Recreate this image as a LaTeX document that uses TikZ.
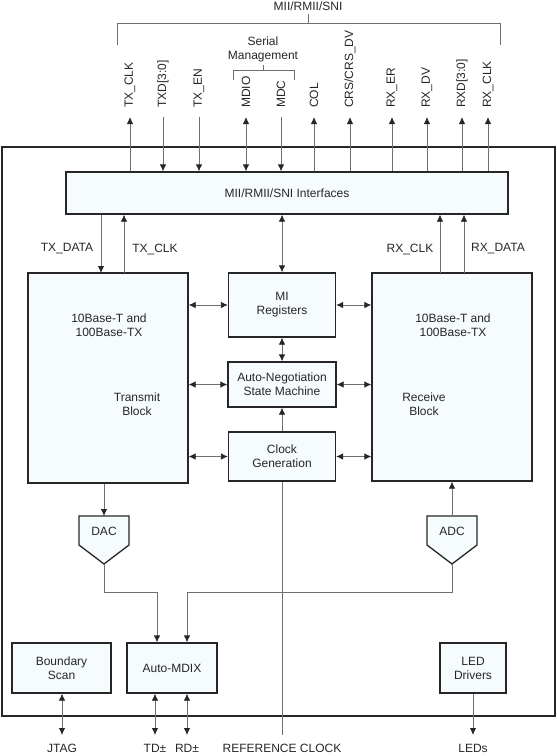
\documentclass[tikz,border=0pt]{standalone}
\usepackage{fontspec}
\setmainfont{Liberation Sans}
\usetikzlibrary{positioning, arrows.meta}

\definecolor{boxfill}{RGB}{246,252,253}
\definecolor{wire}{RGB}{112,112,112}
\definecolor{ink}{RGB}{38,38,38}

\tikzset{
  block/.style={draw=ink, line width=1.3pt, fill=boxfill, inner sep=0pt},
  sig/.style={draw=wire, line width=0.8pt, >={Latex[length=7pt,width=6.5pt,color=ink]}},
  pin/.style={rotate=90, anchor=west, inner xsep=9pt, inner ysep=0pt},
  pinup/.style={<-}, pindown/.style={->}, pinboth/.style={<->},
  lbl/.style={align=center, inner sep=0pt},
  ext/.style={anchor=north, inner ysep=9pt, inner xsep=0pt},
}

\begin{document}
\begin{tikzpicture}[x=1pt, y=-1pt, font=\fontsize{12}{14}\selectfont, text=ink]
        \useasboundingbox (0,0) rectangle (557,756);

        \node[draw=ink, line width=2.2pt, minimum width=553pt, minimum height=569pt] (chip) at (278.5,431.5) {};

        % bus name and bracket
        \node (bus) at (308,6) {MII/RMII/SNI};
        \coordinate (busl) at (117,23);
        \draw[sig] (117,45) -- (busl) -- (500,23) -- (500,45);
        \draw[sig] (bus.south) -- (bus.south |- busl);

        \node[lbl, inner ysep=3pt] (serial) at (263,49) {Serial\\Management};
        \coordinate (mgmtl) at (233,70);
        \draw[sig] (233,80) -- (mgmtl) -- (294,70) -- (294,80);
        \draw[sig] (serial.south) -- (serial.south |- mgmtl);

        % blocks
        \node[block, minimum width=442pt, minimum height=42pt] (mii) at (287,193) {MII/RMII/SNI Interfaces};
        \node[block, minimum width=160pt, minimum height=210pt] (tx) at (108,378) {};
        \node[block, minimum width=160pt, minimum height=208pt] (rx) at (452,377) {};
        \node[block, minimum width=107pt, minimum height=64pt, align=center] (mireg) at (282,305) {MI\\Registers};
        \node[block, minimum width=108pt, minimum height=45pt, align=center] (aneg) at (282,384.5) {Auto-Negotiation\\State Machine};
        \node[block, minimum width=107pt, minimum height=49pt, align=center] (clkgen) at (282,456.5) {Clock\\Generation};
        \node[block, minimum width=99pt, minimum height=50pt, align=center] (bscan) at (61.5,668) {Boundary\\Scan};
        \node[block, minimum width=90pt, minimum height=50pt] (mdix) at (172,668) {Auto-MDIX};
        \node[block, minimum width=66pt, minimum height=50pt, align=center] (led) at (473,668) {LED\\Drivers};

        \node[lbl] (txmode) at (109,325) {10Base-T and\\100Base-TX};
        \node[lbl] (txname) at (137,404) {Transmit\\Block};
        \node[lbl] (rxmode) at (453,325) {10Base-T and\\100Base-TX};
        \node[lbl] (rxname) at (424,404) {Receive\\Block};

        % converters
        \draw[block] (79,516) -- (104,516) coordinate (dactop) -- (129,516) -- (129,545)
                -- (104,564) coordinate (dactip) -- (79,545) -- cycle;
        \node (dac) at (104,531) {DAC};
        \draw[block] (427,516) -- (452,516) coordinate (adctop) -- (477,516) -- (477,545)
                -- (452,564) coordinate (adctip) -- (427,545) -- cycle;
        \node (adc) at (452,531) {ADC};

        % pins to the MAC
        \foreach \x/\pinname/\dir [count=\i] in {130/TX\_CLK/pinup, 163/TXD[3:0]/pindown,
                199/TX\_EN/pindown, 246/MDIO/pinboth, 281/MDC/pindown, 314/COL/pinup,
                350/{CRS/CRS\_DV}/pinup, 392/RX\_ER/pinup, 427/RX\_DV/pinup,
                462/RXD[3:0]/pinup, 488/RX\_CLK/pinup}
        {
                \node[pin] (p\i) at (\x,117) {\pinname};
                \draw[sig, \dir] (p\i.west) -- (p\i.west |- mii.north);
        }

        % internal paths
        \coordinate (txd) at (101,273);
        \coordinate (txc) at (124,273);
        \coordinate (rxc) at (440,273);
        \coordinate (rxd) at (464,273);
        \draw[sig,->] (txd |- mii.south) -- (txd);
        \draw[sig,->] (txc) -- (txc |- mii.south);
        \draw[sig,->] (rxc) -- (rxc |- mii.south);
        \draw[sig,->] (rxd) -- (rxd |- mii.south);
        \draw[sig,<->] (mireg.north) -- (mireg.north |- mii.south);
        \node (txdata) at (67,249) {TX\_DATA};
        \node (txclk) at (155,249) {TX\_CLK};
        \node (rxclk) at (410,249) {RX\_CLK};
        \node (rxdata) at (498,249) {RX\_DATA};

        \draw[sig,<->] (tx.east |- mireg.west) -- (mireg.west);
        \draw[sig,<->] (mireg.east) -- (mireg.east -| rx.west);
        \draw[sig,<->] (tx.east |- aneg.west) -- (aneg.west);
        \draw[sig,<->] (aneg.east) -- (aneg.east -| rx.west);
        \draw[sig,<->] (tx.east |- clkgen.west) -- (clkgen.west);
        \draw[sig,<->] (clkgen.east) -- (clkgen.east -| rx.west);
        \draw[sig,<->] (mireg.south) -- (aneg.north);
        \draw[sig,->] (clkgen.north) -- (aneg.south);

        \draw[sig,->] (tx.south -| dactop) -- (dactop);
        \draw[sig,->] (adctop) -- (adctop |- rx.south);
        \draw[sig,->] (dactip) -- ++(0,28) -| ([xshift=-15pt]mdix.north);
        \draw[sig,->] (adctip) -- ++(0,28) -| ([xshift=15pt]mdix.north);

        % outside pins
        \node[ext] (jtag) at (62,735) {JTAG};
        \node[ext] (td) at (155,735) {TD±};
        \node[ext] (rd) at (187,735) {RD±};
        \node[ext] (refclk) at (282,735) {REFERENCE CLOCK};
        \node[ext] (leds) at (473,735) {LEDs};
        \draw[sig,<->] (jtag.north |- bscan.south) -- (jtag.north);
        \draw[sig,<->] (td.north |- mdix.south) -- (td.north);
        \draw[sig,<->] (rd.north |- mdix.south) -- (rd.north);
        \draw[sig] (clkgen.south) -- (refclk.north);
        \draw[sig,->] (led.south) -- (leds.north);
\end{tikzpicture}
\end{document}
